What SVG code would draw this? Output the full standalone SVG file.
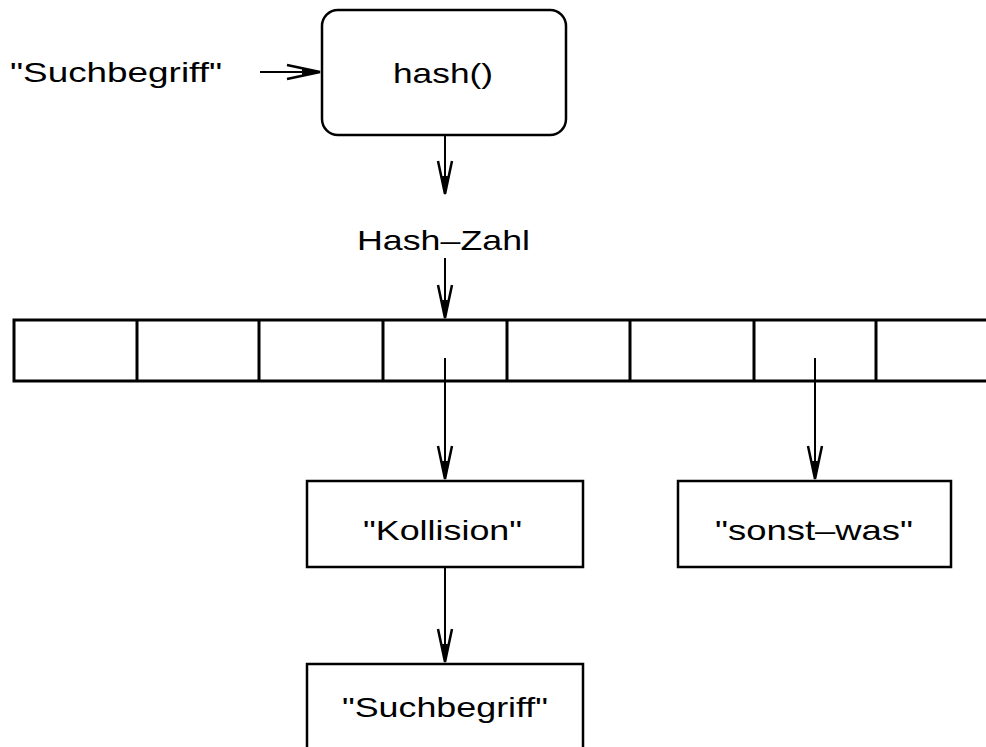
<svg xmlns="http://www.w3.org/2000/svg" width="986" height="747" viewBox="0 0 986 747">
<style>
.box{fill:#fff;stroke:#000;stroke-width:2.5}
.tbl{fill:none;stroke:#000;stroke-width:3}
.t{font-family:"Liberation Sans",Arial,sans-serif;font-size:28px;fill:#000}
.c{fill:none;stroke:#000;stroke-width:2}
</style>
<defs>
<marker id="ah" markerUnits="userSpaceOnUse" viewBox="-40 -10 42 20" refX="0" refY="0" markerWidth="42" markerHeight="20" orient="auto" overflow="visible">
<path d="M-33,-7 L0,0 L-33,7" fill="none" stroke="#000" stroke-width="2.5"/>
<path d="M-18,-3 L0,0 L-18,3 Z" fill="#000"/>
</marker>
</defs>
<rect width="986" height="747" fill="#fff"/>
<g id="label-suchbegriff">
<text class="t" x="10" y="82" textLength="212" lengthAdjust="spacingAndGlyphs">"Suchbegriff"</text>
</g>
<g id="hash">
<rect class="box" x="322" y="10" width="244" height="125" rx="16" ry="16"/>
<text class="t" x="393" y="83" textLength="100" lengthAdjust="spacingAndGlyphs">hash()</text>
</g>
<g id="label-hashzahl">
<text class="t" x="357" y="250" textLength="173" lengthAdjust="spacingAndGlyphs">Hash–Zahl</text>
</g>
<g id="table">
<path class="tbl" d="M990,320 H14 V381 H990"/>
<path class="tbl" d="M137,320 V381 M259,320 V381 M383,320 V381 M507,320 V381 M630,320 V381 M754,320 V381 M876,320 V381"/>
</g>
<g id="kollision">
<rect class="box" x="307" y="481" width="276" height="86"/>
<text class="t" x="363" y="540" textLength="159" lengthAdjust="spacingAndGlyphs">"Kollision"</text>
</g>
<g id="sonstwas">
<rect class="box" x="678" y="481" width="273" height="86"/>
<text class="t" x="715" y="540" textLength="198" lengthAdjust="spacingAndGlyphs">"sonst–was"</text>
</g>
<g id="suchbegriff-node">
<rect class="box" x="307" y="664" width="276" height="100"/>
<text class="t" x="342" y="717" textLength="206" lengthAdjust="spacingAndGlyphs">"Suchbegriff"</text>
</g>
<g id="connectors">
<line class="c" x1="260" y1="72" x2="320" y2="72" marker-end="url(#ah)"/>
<line class="c" x1="445" y1="136" x2="445" y2="194" marker-end="url(#ah)"/>
<line class="c" x1="445" y1="258" x2="445" y2="318" marker-end="url(#ah)"/>
<line class="c" x1="445" y1="358" x2="445" y2="479" marker-end="url(#ah)"/>
<line class="c" x1="815" y1="358" x2="815" y2="479" marker-end="url(#ah)"/>
<line class="c" x1="445" y1="568" x2="445" y2="662" marker-end="url(#ah)"/>
</g>
</svg>
